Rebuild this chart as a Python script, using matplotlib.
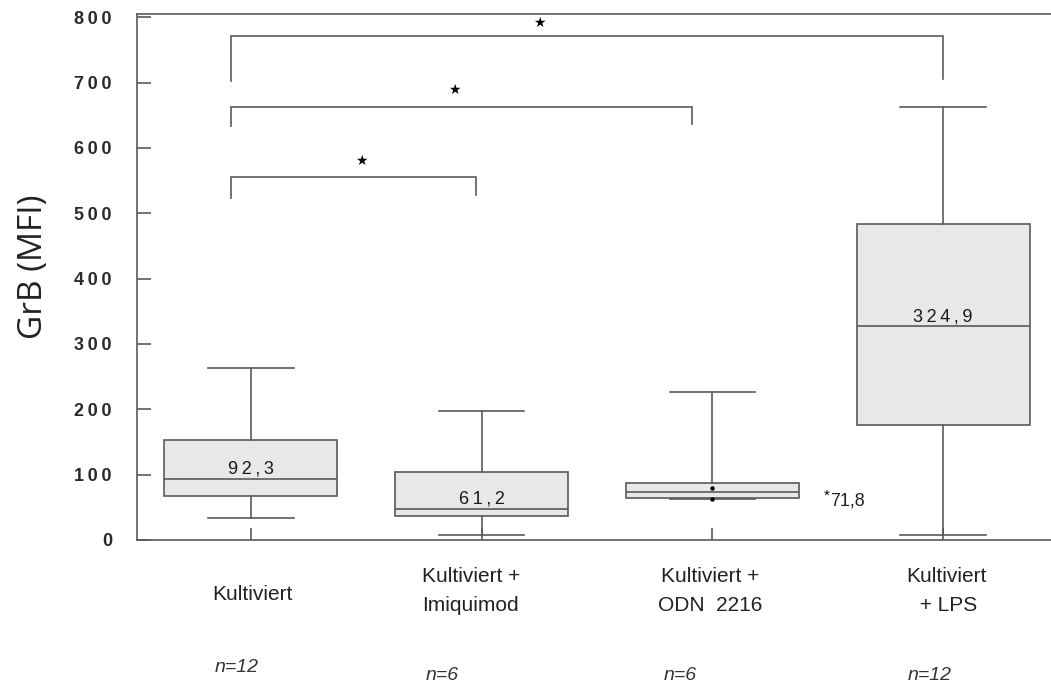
import matplotlib
matplotlib.use("Agg")
import matplotlib.pyplot as plt
import matplotlib.transforms as mtransforms

# ---------------- data ----------------
categories = ["Kultiviert", "Kultiviert +\nImiquimod", "Kultiviert +\nODN  2216", "Kultiviert\n + LPS"]
n_labels = ["n=12", "n=6", "n=6", "n=12"]
medians = [94, 48, 73, 327]
q1_vals = [67, 37, 64, 176]
q3_vals = [153, 104, 87, 483]
whisker_low = [34, 8, 62, 8]
whisker_high = [263, 197, 226, 663]
extra_points = [[], [], [80, 62], []]
median_labels = ["92,3", "61,2", "", "324,9"]
side_value_label = "71,8"
yticks = [0, 100, 200, 300, 400, 500, 600, 700, 800]
ytick_labels = ["\u2009".join(str(v)) for v in yticks]

# significance brackets: (left x, right x, top y, left leg bottom, right leg bottom)
bracket_left = [0.913, 0.913, 0.913]
bracket_right = [1.975, 2.91, 4.0]
bracket_top = [556, 663, 772]
bracket_left_bottom = [523, 633, 702]
bracket_right_bottom = [528, 636, 705]
star_x = [1.477, 1.88, 2.25]
star_y = [580, 689, 792]

# ---------------- figure ----------------
W, H = 1051, 686
fig = plt.figure(figsize=(W / 100, H / 100), dpi=100)
ax = fig.add_axes([137 / W, 1 - 540 / H, (W - 137) / W, (540 - 14) / H])

lc = "#5a5a5a"
lw = 1.2
fam = ["Liberation Sans", "DejaVu Sans"]

positions = [1, 2, 3, 4]
stats = []
for i in range(len(categories)):
    stats.append(dict(med=medians[i], q1=q1_vals[i], q3=q3_vals[i],
                      whislo=whisker_low[i], whishi=whisker_high[i],
                      fliers=extra_points[i], label=categories[i]))

ax.bxp(stats, positions=positions, widths=0.75, capwidths=0.37,
       patch_artist=True, manage_ticks=False,
       boxprops=dict(facecolor="#e8e8e8", edgecolor=lc, linewidth=lw),
       medianprops=dict(color=lc, linewidth=lw),
       whiskerprops=dict(color=lc, linewidth=lw),
       capprops=dict(color=lc, linewidth=lw),
       flierprops=dict(marker="o", markersize=2.2, markerfacecolor="black",
                       markeredgecolor="black"))

ax.set_xlim(0.506, 4.468)
ax.set_ylim(0, 805)

for s in ["left", "top", "bottom"]:
    ax.spines[s].set_color(lc)
    ax.spines[s].set_linewidth(lw)
ax.spines["right"].set_visible(False)

ax.set_xticks(positions)
ax.set_xticklabels([])
ax.tick_params(axis="x", direction="in", length=8.5, width=lw, color=lc)
ax.set_yticks(yticks)
ax.set_yticklabels(ytick_labels, fontfamily=fam, fontsize=13, fontweight="bold",
                   color="#2a2a2a")
ax.tick_params(axis="y", direction="in", length=10, width=lw, color=lc, pad=18)

ax.set_ylabel("GrB (MFI)", fontfamily=["Open Sans", "DejaVu Sans"], fontsize=24,
              color="#222222", labelpad=12)
ax.yaxis.set_label_coords(-0.095, 0.52)

# median labels
for x, m, lab in zip(positions, medians, median_labels):
    if lab:
        ax.annotate("\u2009".join(lab), (x, m), xytext=(0, 3.5), textcoords="offset points",
                    ha="center", va="baseline", fontsize=13,
                    fontfamily=fam, color="#1a1a1a")
# side label for third box
ax.annotate("*", (3, q3_vals[2]), xytext=(80, -12), textcoords="offset points",
            ha="left", va="baseline", fontsize=11, fontfamily=fam, color="black")
ax.annotate(side_value_label, (3, q3_vals[2]), xytext=(85, -16), textcoords="offset points",
            ha="left", va="baseline", fontsize=13, fontfamily=fam, color="#222222")

# brackets
for xl, xr, yt, ybl, ybr in zip(bracket_left, bracket_right, bracket_top,
                                bracket_left_bottom, bracket_right_bottom):
    ax.plot([xl, xl, xr, xr], [ybl, yt, yt, ybr], color=lc, linewidth=lw,
            solid_joinstyle="miter", clip_on=False)
for sx, sy in zip(star_x, star_y):
    ax.text(sx, sy, "\u2605", ha="center", va="center", fontsize=10,
            fontfamily=["DejaVu Sans"], color="black")

# category labels and n labels
trans = mtransforms.blended_transform_factory(ax.transData, fig.transFigure)
cat_x = [1.005, 1.953, 2.99, 4.013]
cat_y = [594, 591, 591, 591]
for cx, cy, lab in zip(cat_x, cat_y, categories):
    ax.text(cx, 1 - cy / H, lab, transform=trans, ha="center", va="center",
            fontsize=15, fontfamily=fam, color="#222222", linespacing=1.7,
            multialignment="center")
n_x = [0.94, 1.83, 2.86, 3.94]
n_y = [667, 676, 676, 676]
for nx, ny, lab in zip(n_x, n_y, n_labels):
    ax.text(nx, 1 - ny / H, lab, transform=trans, ha="center", va="center",
            fontsize=14, fontstyle="italic", fontfamily=fam, color="#333333")

fig.savefig("out.png", dpi=100)
